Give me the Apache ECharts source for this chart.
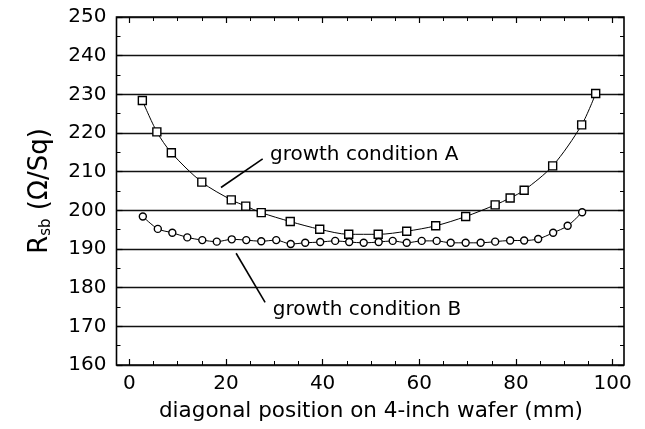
<!DOCTYPE html>
<html>
<head>
<meta charset="utf-8">
<script src="https://cdn.jsdelivr.net/npm/echarts@6/dist/echarts.min.js"></script>
<style>
  html, body { margin:0; padding:0; background:#fff; }
  #chart { width:645px; height:429px; }
</style>
</head>
<body>
<div id="chart"></div>
<script>
// growth condition A (squares)
const posA = [2.7, 5.7, 8.7, 15.0, 21.1, 24.1, 27.3, 33.3, 39.4, 45.4, 51.5, 57.4, 63.4, 69.6, 75.7, 78.8, 81.7, 87.6, 93.6, 96.5];
const rsbA = [228.4, 220.3, 214.9, 207.3, 202.7, 201.1, 199.4, 197.1, 195.1, 193.8, 193.8, 194.6, 196.0, 198.4, 201.4, 203.2, 205.2, 211.5, 222.1, 230.2];
// growth condition B (circles)
const posB = [2.8, 5.9, 8.9, 12.0, 15.1, 18.1, 21.2, 24.2, 27.3, 30.4, 33.4, 36.4, 39.5, 42.6, 45.5, 48.5, 51.6, 54.5, 57.4, 60.5, 63.6, 66.5, 69.6, 72.7, 75.7, 78.8, 81.7, 84.6, 87.7, 90.7, 93.7];
const rsbB = [198.4, 195.2, 194.2, 193.0, 192.3, 191.9, 192.5, 192.3, 192.0, 192.3, 191.3, 191.6, 191.8, 192.1, 191.8, 191.6, 191.8, 192.1, 191.6, 192.1, 192.1, 191.6, 191.6, 191.6, 191.9, 192.2, 192.2, 192.6, 194.2, 196.0, 199.5];
// annotation pointer lines and text anchors, in data units
const pointerA = [[18.97, 205.9], [27.6, 213.3]];
const pointerB = [[22.1, 188.9], [28.1, 176.2]];
const labelA = [29.1, 214.4];
const labelB = [29.7, 174.2];

const font = 'DejaVu Sans, Liberation Sans, sans-serif';
const black = '#000';

const chart = echarts.init(document.getElementById('chart'));

const zip = (xs, ys) => xs.map((x, i) => [x, ys[i]]);

const option = {
    backgroundColor:'#fff',
    animation:false,
    textStyle:{ fontFamily:font, color:black },
    grid:[
        { left:116.5, right:21, top:17, bottom:64, outerBoundsMode:'none', containLabel:false,
          show:true, borderColor:black, borderWidth:1.6, backgroundColor:'transparent' },
        { left:129.3, right:32.4, top:17, bottom:64, outerBoundsMode:'none', containLabel:false }
    ],
    xAxis:[
        { gridIndex:0, type:'value', min:0, max:1, show:false },
        {
            gridIndex:1, type:'value', position:'bottom', min:0, max:100, interval:20,
            axisLine:{ show:false },
            axisTick:{ show:true, inside:true, length:6, lineStyle:{ color:black, width:1.2 } },
            minorTick:{ show:true, splitNumber:4, length:4, lineStyle:{ color:black, width:1 } },
            splitLine:{ show:false },
            axisLabel:{ fontSize:20, color:black, margin:9, fontFamily:font },
            name:'diagonal position on 4-inch wafer (mm)',
            nameLocation:'middle', nameGap:35,
            nameTextStyle:{ fontSize:21.5, color:black, fontFamily:font }
        },
        {
            gridIndex:1, type:'value', position:'top', min:0, max:100, interval:20,
            axisLine:{ show:false },
            axisTick:{ show:true, inside:true, length:6, lineStyle:{ color:black, width:1.2 } },
            minorTick:{ show:true, splitNumber:4, length:4, lineStyle:{ color:black, width:1 } },
            splitLine:{ show:false },
            axisLabel:{ show:false }
        }
    ],
    yAxis:[
        {
            gridIndex:0, type:'value', position:'left', min:160, max:250, interval:10,
            axisLine:{ show:false },
            axisTick:{ show:true, inside:true, length:6, lineStyle:{ color:black, width:1.2 } },
            minorTick:{ show:true, splitNumber:2, length:4, lineStyle:{ color:black, width:1 } },
            splitLine:{ show:true, lineStyle:{ color:'#111', width:1.4 } },
            axisLabel:{ fontSize:20, color:black, margin:10, fontFamily:font },
            name:'{r|R}{s|sb}{r| (Ω/Sq)}',
            nameLocation:'middle', nameGap:63, nameRotate:90,
            nameTextStyle:{
                rich:{
                    r:{ fontSize:26, color:black, fontFamily:font },
                    s:{ fontSize:15, color:black, fontFamily:font, verticalAlign:'bottom', padding:[10,0,0,0] }
                }
            }
        },
        {
            gridIndex:0, type:'value', position:'right', min:160, max:250, interval:10,
            axisLine:{ show:false },
            axisTick:{ show:true, inside:true, length:6, lineStyle:{ color:black, width:1.2 } },
            minorTick:{ show:true, splitNumber:2, length:4, lineStyle:{ color:black, width:1 } },
            splitLine:{ show:false },
            axisLabel:{ show:false }
        },
        { gridIndex:1, type:'value', min:160, max:250, show:false }
    ],
    series:[
        {
            name:'growth condition A', type:'line', xAxisIndex:1, yAxisIndex:2,
            data:zip(posA, rsbA), smooth:0.3,
            symbol:'rect', symbolSize:8,
            lineStyle:{ color:black, width:1 },
            itemStyle:{ color:'#fff', borderColor:black, borderWidth:1.4 },
            z:3,
            markLine:{
                silent:true, symbol:'none', label:{ show:false },
                lineStyle:{ color:black, width:1.6, type:'solid' },
                data:[
                    [{ coord:pointerA[0] }, { coord:pointerA[1] }],
                    [{ coord:pointerB[0] }, { coord:pointerB[1] }]
                ]
            },
            markPoint:{
                silent:true, symbol:'circle', symbolSize:0,
                label:{ show:true, position:'right', distance:0, fontSize:20, color:black, fontFamily:font },
                data:[
                    { coord:labelA, value:'growth condition A', label:{ formatter:'growth condition A' } },
                    { coord:labelB, value:'growth condition B', label:{ formatter:'growth condition B' } }
                ]
            }
        },
        {
            name:'growth condition B', type:'line', xAxisIndex:1, yAxisIndex:2,
            data:zip(posB, rsbB), smooth:0.3,
            symbol:'circle', symbolSize:7,
            lineStyle:{ color:black, width:1 },
            itemStyle:{ color:'#fff', borderColor:black, borderWidth:1.4 },
            z:3
        }
    ]
};

chart.setOption(option);
</script>
</body>
</html>
